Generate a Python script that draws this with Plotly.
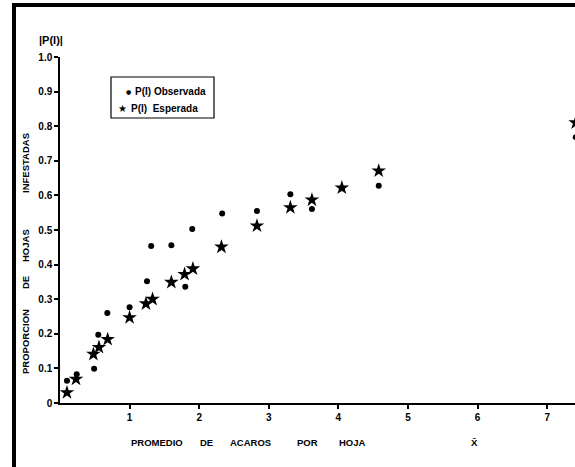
import plotly.graph_objects as go

# ---- data ----
obs_x = [0.10, 0.24, 0.49, 0.55, 0.68, 1.00, 1.25, 1.31, 1.60, 1.80, 1.90, 2.33, 2.83, 3.31, 3.62, 4.05, 4.58, 7.41]
obs_y = [0.064, 0.083, 0.099, 0.197, 0.260, 0.277, 0.352, 0.454, 0.456, 0.336, 0.503, 0.548, 0.555, 0.603, 0.561, 0.621, 0.628, 0.768]
esp_x = [0.10, 0.23, 0.48, 0.56, 0.685, 1.00, 1.235, 1.33, 1.60, 1.79, 1.91, 2.32, 2.83, 3.31, 3.62, 4.05, 4.58, 7.41]
esp_y = [0.030, 0.069, 0.141, 0.161, 0.184, 0.247, 0.287, 0.300, 0.349, 0.372, 0.388, 0.451, 0.512, 0.565, 0.587, 0.622, 0.671, 0.810]

y_ticks = [0, 0.1, 0.2, 0.3, 0.4, 0.5, 0.6, 0.7, 0.8, 0.9, 1.0]
y_labels = ["0", "0.1", "0.2", "0.3", "0.4", "0.5", "0.6", "0.7", "0.8", "0.9", "1.0"]
x_ticks = [1, 2, 3, 4, 5, 6, 7]
x_labels = ["1", "2", "3", "4", "5", "6", "7"]

x_words = ["PROMEDIO", "DE", "ACAROS", "POR", "HOJA"]
y_words = ["PROPORCION", "DE", "HOJAS", "INFESTADAS"]
legend_labels = ["P(I) Observada", "P(I)  Esperada"]

# ---- layout geometry ----
W, H = 575, 467
L, R, T, B = 60, 0, 57, 64
PW, PH = W - L - R, H - T - B
X_MAX = 7.40

def px(xp):
    return (xp - L) / PW

def py(yp):
    return (H - B - yp) / PH

FONT = "Liberation Sans Narrow, Liberation Sans, sans-serif"

fig = go.Figure()
fig.add_trace(go.Scatter(
    x=obs_x, y=obs_y, mode="markers", name=legend_labels[0],
    marker=dict(symbol="circle", size=6, color="black"),
    cliponaxis=True, showlegend=False,
))
fig.add_trace(go.Scatter(
    x=esp_x, y=esp_y, mode="markers", name=legend_labels[1],
    marker=dict(symbol="star", size=11, color="black"),
    cliponaxis=True, showlegend=False,
))

axis_font = dict(family=FONT, size=10, color="black", weight="bold")

fig.update_layout(
    width=W, height=H,
    margin=dict(l=L, r=R, t=T, b=B),
    paper_bgcolor="white", plot_bgcolor="white",
    font=dict(family=FONT, color="black"),
    showlegend=False,
    xaxis=dict(
        range=[0, X_MAX], showgrid=False, zeroline=False,
        showline=True, linecolor="black", linewidth=1.5,
        ticks="outside", ticklen=4, tickwidth=1.5, tickcolor="black",
        tickvals=x_ticks, ticktext=x_labels, tickfont=axis_font,
    ),
    yaxis=dict(
        range=[0, 1.0], showgrid=False, zeroline=False,
        showline=True, linecolor="black", linewidth=1.5,
        ticks="outside", ticklen=4, tickwidth=1.5, tickcolor="black",
        tickvals=y_ticks, ticktext=y_labels, tickfont=axis_font,
    ),
    xaxis2=dict(
        range=[0, X_MAX], overlaying="x", anchor="y", side="bottom",
        showgrid=False, zeroline=False, showline=False,
        ticks="inside", ticklen=4, tickwidth=1.5, tickcolor="black",
        tickvals=x_ticks, showticklabels=False,
    ),
    yaxis2=dict(
        range=[0, 1.0], overlaying="y", anchor="x", side="left",
        showgrid=False, zeroline=False, showline=False,
        ticks="inside", ticklen=4, tickwidth=1.5, tickcolor="black",
        tickvals=y_ticks[1:], showticklabels=False,
    ),
)

# frame (thick lines at top and left)
fig.add_shape(type="line", xref="paper", yref="paper",
              x0=px(12), x1=px(W), y0=py(5), y1=py(5),
              line=dict(color="black", width=4))
fig.add_shape(type="line", xref="paper", yref="paper",
              x0=px(14), x1=px(14), y0=py(3), y1=py(H),
              line=dict(color="black", width=4))

title_font = dict(family=FONT, size=9.5, color="black", weight="bold")

def note(text, xp, yp, font, angle=0, xanchor="center"):
    fig.add_annotation(text=text, xref="paper", yref="paper",
                       x=px(xp), y=py(yp), textangle=angle, showarrow=False,
                       xanchor=xanchor, yanchor="middle", font=font)

# y-axis unit label
note("|P(I)|", 51, 40, dict(family=FONT, size=11, color="black", weight="bold"))

# y-axis title words (rotated)
for w, c in zip(y_words, [342, 283, 246, 163]):
    note(w, 25, c, title_font, angle=-90)

# x-axis title words
for w, c in zip(x_words, [157, 206, 250, 307, 352]):
    note(w, c, 442, title_font)
note("X\u0304", 474, 442, title_font)

# legend box drawn by hand to match the reference's compact layout
fig.add_shape(type="rect", xref="paper", yref="paper",
              x0=px(111), x1=px(214), y0=py(77), y1=py(118),
              line=dict(color="black", width=1.2), fillcolor="white", layer="below")
leg_font = dict(family=FONT, size=10, color="black", weight="bold")
note("\u25CF", 128, 91, dict(family="DejaVu Sans", size=6, color="black"))
note("\u2605", 122, 108, dict(family="DejaVu Sans", size=10, color="black"))
note(legend_labels[0], 133, 91, leg_font, xanchor="left")
note(legend_labels[1], 129, 108, leg_font, xanchor="left")

fig.write_html("out.html")
